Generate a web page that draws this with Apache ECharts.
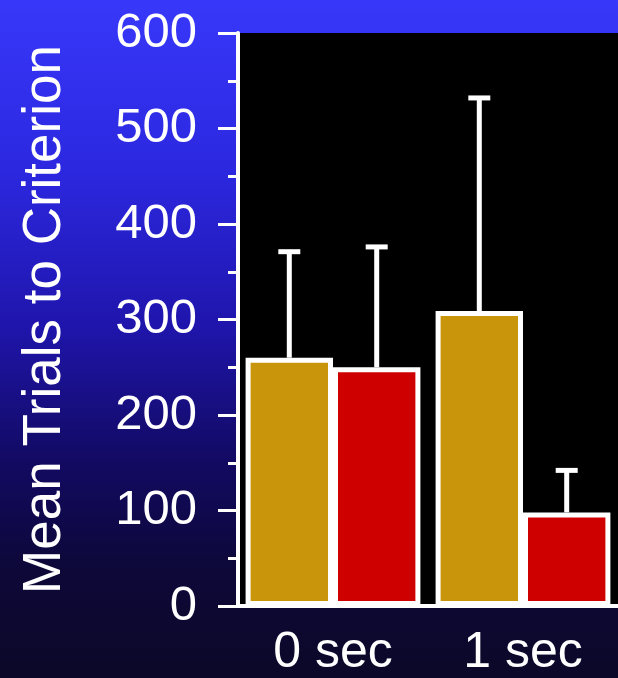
<!DOCTYPE html>
<html>
<head>
<meta charset="utf-8">
<script src="https://cdn.jsdelivr.net/npm/echarts@6/dist/echarts.min.js"></script>
<style>
  html, body { margin: 0; padding: 0; }
  #chart { width: 618px; height: 678px; }
</style>
</head>
<body>
<div id="chart"></div>
<script>
// Delay conditions on the x axis
const categories = ['0 sec', '1 sec'];
// Mean trials to criterion for the two groups
const goldMeans = [260, 309];
const redMeans = [250, 98];
// Upper end of each error bar
const goldUpper = [371, 532];
const redUpper = [376, 142];
const yTicks = [0, 100, 200, 300, 400, 500, 600];

const GOLD = '#c9960b';
const RED = '#cf0000';
const WHITE = '#ffffff';
const FONT = '"Liberation Sans", Arial, Helvetica, sans-serif';

const chart = echarts.init(document.getElementById('chart'));

// Draws an upward error bar (stem + cap) above a bar of the given group
function errorBar(offsetIndex) {
  return function (params, api) {
    const catIdx = api.value(0);
    const mean = api.value(1);
    const upper = api.value(2);
    const band = api.size([1, 0])[0];
    const barW = band * 0.46;
    const center = api.coord([catIdx, 0])[0] + (offsetIndex === 0 ? -barW / 2 : barW / 2);
    const pBase = api.coord([catIdx, mean]);
    const pTop = api.coord([catIdx, upper]);
    const capHalf = 11;
    const style = { stroke: WHITE, lineWidth: 5 };
    return {
      type: 'group',
      children: [
        { type: 'line', shape: { x1: center, y1: pBase[1], x2: center, y2: pTop[1] }, style: style },
        { type: 'line', shape: { x1: center - capHalf, y1: pTop[1], x2: center + capHalf, y2: pTop[1] }, style: style }
      ]
    };
  };
}

chart.setOption({
  animation: false,
  backgroundColor: new echarts.graphic.LinearGradient(0, 0, 0, 1, [
    { offset: 0, color: '#3838fa' },
    { offset: 0.25, color: '#2c28e0' },
    { offset: 0.48, color: '#1f15ac' },
    { offset: 0.68, color: '#120a62' },
    { offset: 0.84, color: '#0d0838' },
    { offset: 1, color: '#0c0828' }
  ]),
  grid: {
    left: 238, right: 0, top: 33, bottom: 71,
    show: true, backgroundColor: '#000000', borderWidth: 0
  },
  xAxis: {
    type: 'category',
    data: categories,
    axisLine: { lineStyle: { color: WHITE, width: 4 } },
    axisTick: { alignWithLabel: true, length: 8, lineStyle: { color: WHITE, width: 3 } },
    axisLabel: { color: WHITE, fontSize: 50, fontFamily: FONT, margin: 22 }
  },
  yAxis: {
    type: 'value',
    min: 0, max: 600, interval: 100,
    name: 'Mean Trials to Criterion',
    nameLocation: 'middle',
    nameGap: 166,
    nameTextStyle: { color: WHITE, fontSize: 53, fontFamily: FONT },
    axisLine: { show: true, lineStyle: { color: WHITE, width: 4 } },
    axisTick: { show: true, length: 20, lineStyle: { color: WHITE, width: 3 } },
    minorTick: { show: true, splitNumber: 2, length: 10, lineStyle: { color: WHITE, width: 3 } },
    splitLine: { show: false },
    axisLabel: {
      color: WHITE, fontSize: 49, fontFamily: FONT, margin: 41,
      formatter: function (v) { return yTicks.indexOf(v) >= 0 ? String(v) : ''; }
    }
  },
  series: [
    {
      type: 'bar', data: goldMeans, barWidth: '46%', barGap: '0%',
      itemStyle: { color: GOLD, borderColor: WHITE, borderWidth: 5 }
    },
    {
      type: 'bar', data: redMeans, barWidth: '46%', barGap: '0%',
      itemStyle: { color: RED, borderColor: WHITE, borderWidth: 5 }
    },
    {
      type: 'custom', renderItem: errorBar(0), z: 1,
      data: categories.map((c, i) => [i, goldMeans[i], goldUpper[i]])
    },
    {
      type: 'custom', renderItem: errorBar(1), z: 1,
      data: categories.map((c, i) => [i, redMeans[i], redUpper[i]])
    }
  ]
});
</script>
</body>
</html>
